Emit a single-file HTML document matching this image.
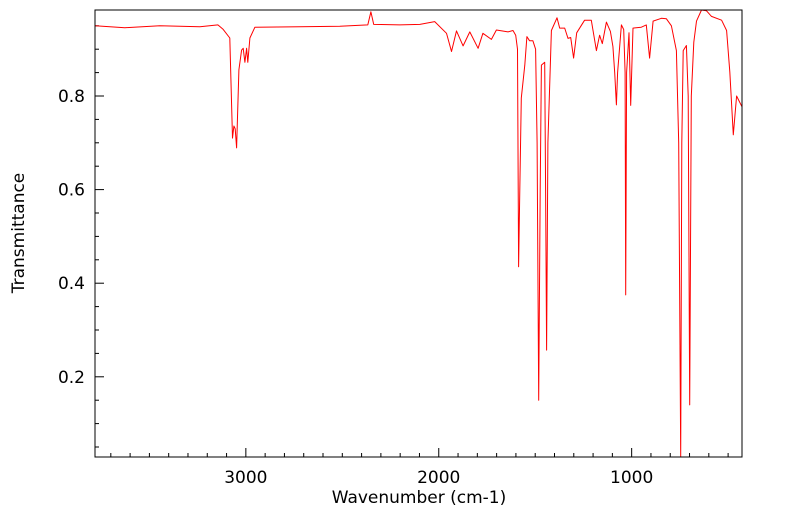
<!DOCTYPE html>
<html><head><meta charset="utf-8"><style>
body{margin:0;background:#fff;}
svg text{font-family:"DejaVu Sans","Liberation Sans",sans-serif;}
</style></head><body>
<svg id="chart" width="799" height="516" xmlns="http://www.w3.org/2000/svg">
<rect x="0" y="0" width="799" height="516" fill="#fff"/>
<g id="axes"></g>
<path id="line" fill="none" stroke="#ff0000" stroke-width="1" stroke-linejoin="round"/>
<rect x="95" y="10" width="647" height="447" fill="none" stroke="#000" stroke-width="1"/>
<text x="419" y="503" font-size="17" text-anchor="middle">Wavenumber (cm-1)</text>
<text x="24" y="233" font-size="17" text-anchor="middle" transform="rotate(-90 24 233)">Transmittance</text>
</svg>
<script>
const wavenumbers=[3782,3627,3446,3238,3145,3119,3083,3069,3062,3055,3048,3036,3022,3014,3005,2996,2990,2979,2953,2720,2513,2368,2352,2337,2202,2098,2021,1960,1934,1908,1874,1839,1796,1771,1727,1701,1641,1615,1601,1592,1586,1580,1572,1554,1543,1529,1512,1498,1490,1482,1474,1468,1451,1446,1441,1434,1416,1387,1373,1347,1330,1316,1301,1285,1244,1209,1183,1166,1152,1131,1110,1097,1088,1079,1073,1053,1041,1034,1031,1026,1014,1005,993,950,924,907,889,846,820,794,768,756,746,740,733,716,707,699,691,678,664,638,612,586,534,508,491,473,456,439,428];
const transmittance=[0.950,0.946,0.950,0.948,0.952,0.943,0.924,0.71,0.736,0.73,0.689,0.856,0.898,0.902,0.872,0.902,0.872,0.924,0.947,0.948,0.949,0.952,0.980,0.953,0.952,0.953,0.959,0.934,0.895,0.939,0.907,0.937,0.902,0.934,0.921,0.941,0.937,0.940,0.930,0.90,0.435,0.60,0.796,0.866,0.927,0.918,0.918,0.90,0.70,0.15,0.60,0.866,0.872,0.60,0.257,0.70,0.940,0.967,0.945,0.945,0.923,0.925,0.881,0.935,0.962,0.962,0.897,0.930,0.912,0.958,0.938,0.906,0.85,0.781,0.85,0.952,0.942,0.85,0.375,0.85,0.935,0.78,0.945,0.947,0.952,0.881,0.960,0.966,0.965,0.950,0.897,0.70,0.02,0.70,0.897,0.908,0.80,0.14,0.80,0.915,0.960,0.984,0.982,0.970,0.962,0.940,0.852,0.717,0.80,0.786,0.777];
const yTicks=[0.2,0.4,0.6,0.8];
const xTicks=[3000,2000,1000];
const X0=95,X1=742,Y0=10,Y1=457,XMAX=3782,XMIN=428;
function sx(w){return X0+(XMAX-w)/(XMAX-XMIN)*(X1-X0);}
function sy(t){return 96-(t-0.8)*468;}
const NS="http://www.w3.org/2000/svg";
const axes=document.getElementById('axes');
function ln(x1,y1,x2,y2,name){const l=document.createElementNS(NS,'line');l.setAttribute('x1',x1);l.setAttribute('y1',y1);l.setAttribute('x2',x2);l.setAttribute('y2',y2);l.setAttribute('stroke','#000');


axes.appendChild(l);}
function tx(x,y,s,anchor,name){const t=document.createElementNS(NS,'text');t.setAttribute('x',x);t.setAttribute('y',y);t.setAttribute('font-size','17');t.setAttribute('text-anchor',anchor);t.textContent=s;


axes.appendChild(t);}
for(let w=3700;w>=500;w-=100){const x=sx(w);const major=xTicks.includes(w);ln(x,Y1,x,Y1-(major?9:4),major?'x-major-tick':'x-minor-tick');}
xTicks.forEach(w=>tx(sx(w),483,String(w),'middle','x-tick-label'));
for(let i=1;i<=19;i++){const t=i*0.05;const y=sy(t);if(y<Y0||y>Y1)continue;const major=yTicks.some(v=>Math.abs(v-t)<1e-6);ln(X0,y,X0+(major?9:4),y,major?'y-major-tick':'y-minor-tick');}
yTicks.forEach(t=>tx(85,sy(t)+6,t.toFixed(1),'end','y-tick-label'));
let d='';
for(let i=0;i<wavenumbers.length;i++){let y=Math.min(Y1,Math.max(Y0,sy(transmittance[i])));d+=(i?'L':'M')+sx(wavenumbers[i]).toFixed(1)+','+y.toFixed(1);}
document.getElementById('line').setAttribute('d',d);
</script>
</body></html>
